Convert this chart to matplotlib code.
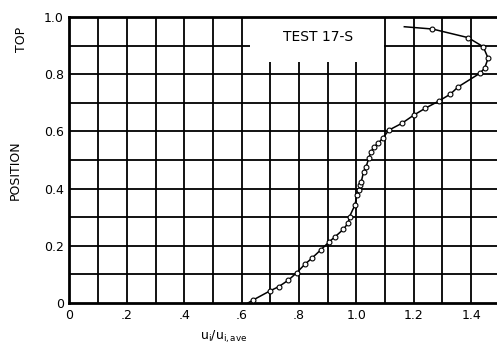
import matplotlib.pyplot as plt
from matplotlib.patches import Rectangle

plt.rcParams['font.family'] = ['DejaVu Sans']

u_ratio = [0.639, 0.700, 0.729, 0.763, 0.792, 0.820, 0.844, 0.875, 0.905, 0.926,
           0.955, 0.972, 0.976, 0.995, 1.002, 1.009, 1.014, 1.017, 1.025, 1.034,
           1.043, 1.051, 1.062, 1.076, 1.091, 1.114, 1.158, 1.200, 1.240, 1.287,
           1.327, 1.355, 1.430, 1.447, 1.459, 1.442, 1.389, 1.265]
position = [0.010, 0.043, 0.057, 0.080, 0.106, 0.135, 0.156, 0.185, 0.214, 0.232,
            0.258, 0.281, 0.302, 0.343, 0.378, 0.395, 0.413, 0.424, 0.459, 0.477,
            0.506, 0.529, 0.547, 0.558, 0.576, 0.605, 0.628, 0.657, 0.681, 0.706,
            0.730, 0.756, 0.803, 0.821, 0.856, 0.896, 0.928, 0.958]

# ends of the faired curve (no symbol there)
curve_start = (0.622, 0.0)
curve_end = (1.167, 0.966)

xticks = [0, 0.2, 0.4, 0.6, 0.8, 1.0, 1.2, 1.4]
xlabels = ['0', '.2', '.4', '.6', '.8', '1.0', '1.2', '1.4']
yticks = [0, 0.2, 0.4, 0.6, 0.8, 1.0]
ylabels = ['0', '0.2', '0.4', '0.6', '0.8', '1.0']

fig = plt.figure(figsize=(4.97, 3.45), dpi=100)
ax = fig.add_axes([0.1398, 0.1217, 0.8602, 0.829])

# grid every 0.1
for i in range(1, 15):
    ax.axvline(i / 10, color='black', lw=1.3, zorder=1)
for i in range(1, 10):
    ax.axhline(i / 10, color='black', lw=1.3, zorder=1)

# blank label area
ax.add_patch(Rectangle((0.63, 0.843), 0.465, 0.157, facecolor='white',
                       edgecolor='none', zorder=2))
ax.text(0.866, 0.93, 'TEST 17-S', fontsize=10, ha='center', va='center', zorder=3)

line_x = [curve_start[0]] + u_ratio + [curve_end[0]]
line_y = [curve_start[1]] + position + [curve_end[1]]
ax.plot(line_x, line_y, color='black', lw=1.1, zorder=4)
ax.plot(u_ratio, position, 'o', mfc='white', mec='black', ms=3.5, mew=0.8, zorder=5)

ax.set_xlim(0, 1.49)
ax.set_ylim(0, 1.0)
ax.set_xticks(xticks)
ax.set_xticklabels(xlabels)
ax.set_yticks(yticks)
ax.set_yticklabels(ylabels)
ax.tick_params(length=0, labelsize=9, pad=4)

ax.spines['right'].set_visible(False)
for s in ['left', 'bottom', 'top']:
    ax.spines[s].set_linewidth(2)

ax.set_xlabel(r'$\mathrm{u_i/u_{i,ave}}$', fontsize=9, labelpad=2)
ax.xaxis.set_label_coords(0.36, -0.09)
ax.set_ylabel('POSITION', fontsize=9)
ax.yaxis.set_label_coords(-0.112, 0.465)
ax.text(-0.112, 0.92, 'TOP', fontsize=9, rotation=90, ha='center', va='center',
        transform=ax.transAxes)

fig.savefig('out.png', dpi=100)
